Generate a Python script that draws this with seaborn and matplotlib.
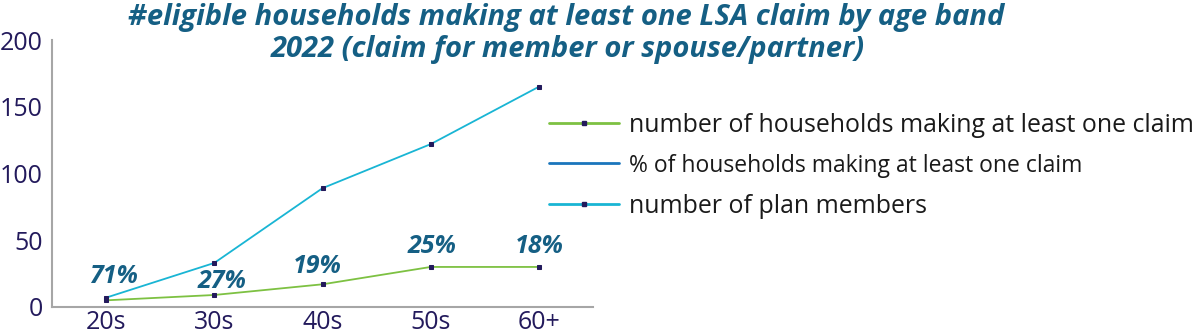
import matplotlib
matplotlib.use("Agg")
import matplotlib.pyplot as plt
from matplotlib.lines import Line2D
import seaborn as sns
import pandas as pd
import numpy as np

categories = ["20s", "30s", "40s", "50s", "60+"]
households_claiming = [5, 9, 17, 30, 30]
plan_members = [7, 33, 89, 122, 165]
pct_labels = ["71%", "27%", "19%", "25%", "18%"]
yticks = [0, 50, 100, 150, 200]

title_line1 = "#eligible households making at least one LSA claim by age band"
title_line2 = "2022 (claim for member or spouse/partner)"
name_hh = "number of households making at least one claim"
name_pct = "% of households making at least one claim"
name_pm = "number of plan members"

df = pd.DataFrame({
    "age": categories * 2,
    "value": households_claiming + plan_members,
    "series": [name_hh] * 5 + [name_pm] * 5,
})

GREEN = "#7dc142"
CYAN = "#19b5d4"
BLUE = "#1a75bc"
NAVY = "#231a5c"
TITLE_C = "#155f84"
AXIS_C = "#a6a6a6"

sns.set_theme(style="white")
plt.rcParams["font.family"] = ["Open Sans", "DejaVu Sans"]

fig = plt.figure(figsize=(12, 3.36), dpi=100)
ax = fig.add_axes([52 / 1200, 29 / 336, 541 / 1200, 267 / 336])

sns.lineplot(data=df, x="age", y="value", hue="series",
             palette={name_hh: GREEN, name_pm: CYAN},
             marker="s", markersize=2.8, markerfacecolor=NAVY, markeredgecolor=NAVY,
             linewidth=1.3, sort=False, ax=ax, legend=False)

ax.set_xlim(-0.5, 4.5)
ax.set_ylim(0, 200)
ax.set_yticks(yticks)
ax.set_xticks(range(len(categories)))
ax.set_xticklabels(categories)
ax.set_xticks(np.arange(-0.5, 5, 1), minor=True)
ax.set_xlabel("")
ax.set_ylabel("")
ax.tick_params(axis="x", which="major", length=0, labelsize=18, labelcolor=NAVY, pad=2)
ax.tick_params(axis="x", which="minor", direction="in", length=5, width=1, color=AXIS_C)
ax.tick_params(axis="y", which="major", direction="in", length=9.4, width=1, color=AXIS_C,
               labelsize=18, labelcolor=NAVY, pad=6.5)
for s in ["top", "right"]:
    ax.spines[s].set_visible(False)
for s in ["left", "bottom"]:
    ax.spines[s].set_color(AXIS_C)
    ax.spines[s].set_linewidth(1.5)

x_off = [5, 5.8, -3.6, 0.7, 0.3]
y_off = [17, 10, 13, 15, 15]
for i, (lab, v) in enumerate(zip(pct_labels, households_claiming)):
    ax.annotate(lab, (i, v), xytext=(x_off[i], y_off[i]), textcoords="offset points",
                ha="center", va="center", fontsize=18, fontweight="bold", fontstyle="italic",
                color=TITLE_C)

fig.text(566 / 1200, 1 - 18 / 336, title_line1, ha="center", va="center", fontsize=21,
         fontweight="bold", fontstyle="italic", color=TITLE_C)
fig.text(568 / 1200, 1 - 50 / 336, title_line2, ha="center", va="center", fontsize=21,
         fontweight="bold", fontstyle="italic", color=TITLE_C)

handles = [
    Line2D([], [], color=GREEN, lw=2, marker="s", markersize=2.8, markerfacecolor=NAVY,
           markeredgecolor=NAVY),
    Line2D([], [], color=BLUE, lw=2),
    Line2D([], [], color=CYAN, lw=2, marker="s", markersize=2.8, markerfacecolor=NAVY,
           markeredgecolor=NAVY),
]
leg = fig.legend(handles, [name_hh, name_pct, name_pm], loc="center left",
                 bbox_to_anchor=(549 / 1200, 1 - 166 / 336), frameon=False, fontsize=17.9,
                 handlelength=2.8, handletextpad=0.4, labelspacing=0.65,
                 numpoints=1, borderaxespad=0, borderpad=0)
texts = leg.get_texts()
for t in texts:
    t.set_color("#1a1a1a")
texts[1].set_fontsize(16.5)

fig.savefig("out.png", dpi=100)
